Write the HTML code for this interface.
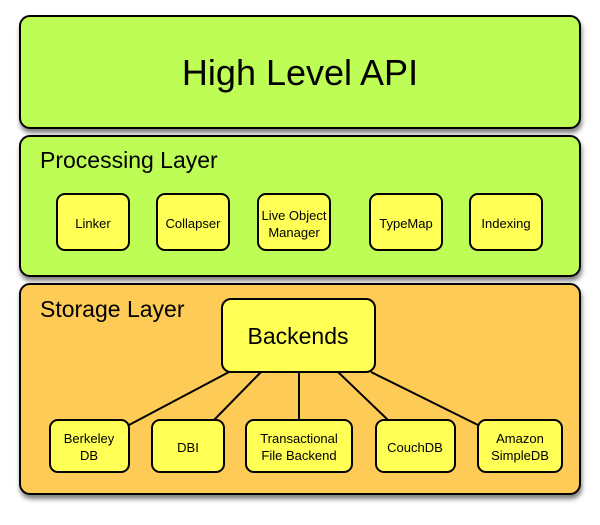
<!DOCTYPE html>
<html><head><style>
body{margin:0;width:600px;height:520px;background:#fff;overflow:hidden}
svg text{font-family:"Liberation Sans",sans-serif;fill:#000}
</style></head><body>
<svg width="600" height="520" xmlns="http://www.w3.org/2000/svg">
<defs><filter id="s" x="-5%" y="-5%" width="115%" height="120%"><feDropShadow dx="1" dy="4" stdDeviation="2.5" flood-color="#000" flood-opacity="0.5"/></filter></defs>
<g stroke="#000" stroke-width="2">
<rect x="20" y="16" width="560" height="112" rx="10" fill="#bdfd55" filter="url(#s)"/>
<rect x="20" y="136" width="560" height="140" rx="10" fill="#bdfd55" filter="url(#s)"/>
<rect x="20" y="284" width="560" height="210" rx="10" fill="#fecb57" filter="url(#s)"/>
<line x1="229" y1="372" x2="129" y2="425"/>
<line x1="261" y1="372" x2="214" y2="420"/>
<line x1="299" y1="372" x2="299" y2="420"/>
<line x1="338" y1="372" x2="388" y2="420"/>
<line x1="371" y1="372" x2="478" y2="425"/>
<g fill="#ffff55">
<rect x="57" y="194" width="72" height="56" rx="8"/>
<rect x="157" y="194" width="72" height="56" rx="8"/>
<rect x="258" y="194" width="72" height="56" rx="8"/>
<rect x="370" y="194" width="72" height="56" rx="8"/>
<rect x="470" y="194" width="72" height="56" rx="8"/>
<rect x="222" y="299" width="153" height="73" rx="9"/>
<rect x="50" y="420" width="79" height="52" rx="8"/>
<rect x="152" y="420" width="72" height="52" rx="8"/>
<rect x="246" y="420" width="106" height="52" rx="8"/>
<rect x="376" y="420" width="79" height="52" rx="8"/>
<rect x="478" y="420" width="84" height="52" rx="8"/>
</g></g>
<text x="300" y="85" font-size="36" text-anchor="middle">High Level API</text>
<text x="40" y="168" font-size="23">Processing Layer</text>
<text x="40" y="317" font-size="23">Storage Layer</text>
<text x="298" y="344" font-size="23" text-anchor="middle">Backends</text>
<g font-size="13" text-anchor="middle">
<text x="93" y="228">Linker</text>
<text x="193" y="228">Collapser</text>
<text x="294" y="220">Live Object</text>
<text x="294" y="237">Manager</text>
<text x="406" y="228">TypeMap</text>
<text x="506" y="228">Indexing</text>
<text x="89" y="443">Berkeley</text>
<text x="89" y="460">DB</text>
<text x="188" y="452">DBI</text>
<text x="299" y="443">Transactional</text>
<text x="299" y="460">File Backend</text>
<text x="415" y="452">CouchDB</text>
<text x="520" y="443">Amazon</text>
<text x="520" y="460">SimpleDB</text>
</g>
</svg>
</body></html>
